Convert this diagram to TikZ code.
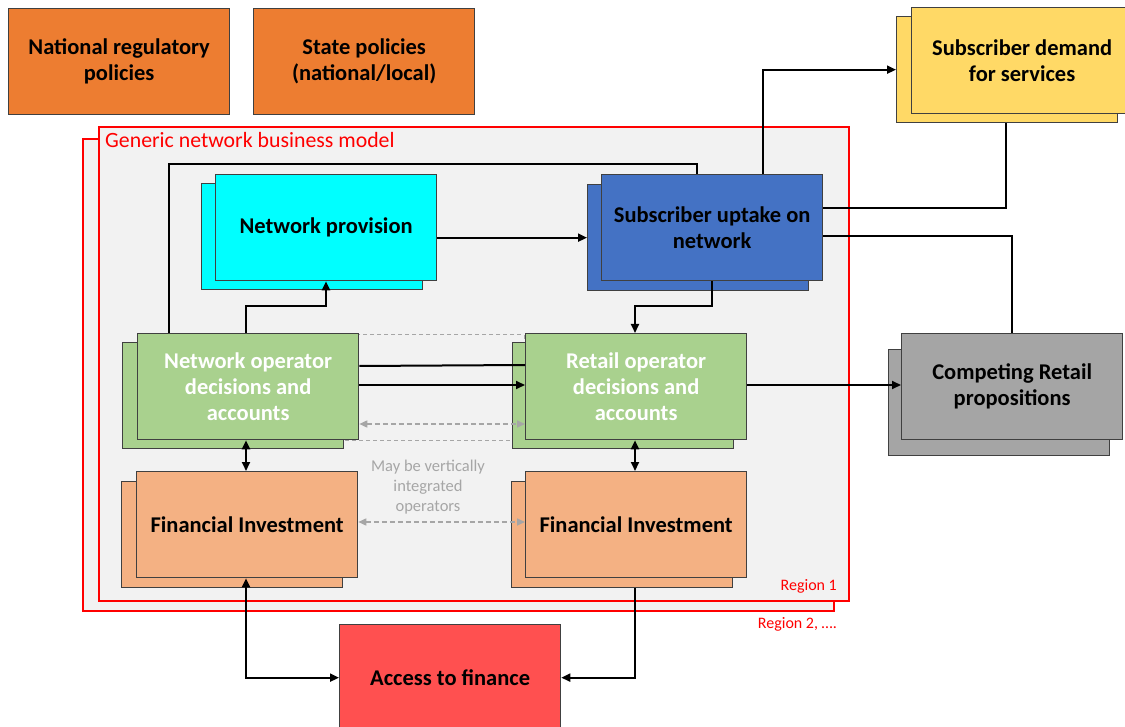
\documentclass[tikz,border=0pt]{standalone}
\usepackage{fontspec}
\setmainfont{Carlito}
\usetikzlibrary{arrows.meta}

\definecolor{policyorange}{HTML}{ED7D31}
\definecolor{demandyellow}{HTML}{FFD966}
\definecolor{provcyan}{HTML}{00FFFF}
\definecolor{uptakeblue}{HTML}{4472C4}
\definecolor{opgreen}{HTML}{A9D18E}
\definecolor{finpeach}{HTML}{F4B183}
\definecolor{compgray}{HTML}{A5A5A5}
\definecolor{financered}{HTML}{FF5050}
\definecolor{regionfill}{HTML}{F2F2F2}
\definecolor{regionred}{HTML}{FF0000}
\definecolor{notegray}{HTML}{A6A6A6}
\definecolor{edgegray}{HTML}{404040}

\tikzset{
  card/.style={draw=edgegray, line width=1.3pt, minimum width=221pt, minimum height=106pt,
    inner sep=2pt, anchor=north west, align=center,
    font=\fontsize{22.5}{26}\selectfont\bfseries},
  region/.style={draw=regionred, line width=2.4pt, fill=regionfill},
  regionlabel/.style={text=regionred, inner sep=0pt},
  link/.style={draw=black, line width=2pt},
  arr/.style={link, -{Triangle[length=9pt,width=8pt]}},
  darr/.style={link, {Triangle[length=9pt,width=8pt]}-{Triangle[length=9pt,width=8pt]}},
  gdarr/.style={draw=notegray, line width=1.6pt, dash pattern=on 5pt off 3pt,
    {Triangle[length=8pt,width=7pt]}-{Triangle[length=8pt,width=7pt]}},
  gdash/.style={draw=notegray, line width=1pt, dash pattern=on 4pt off 3pt},
}

% stacked card: name, style, front x, front y, back x, back y, label
\newcommand{\stackcard}[7]{%
  \node[card, #2] (#1b) at (#5,#6) {};
  \node[card, #2] (#1) at (#3,#4) {#7};}

\begin{document}
\begin{tikzpicture}[x=1pt, y=-1pt]
\useasboundingbox (0,0) rectangle (1125,727);
\clip (0,0) rectangle (1125,727);

% regions
\draw[region] (83,139) rectangle (834,611);
\draw[region] (99,127) rectangle (849,601);
\node[regionlabel, anchor=base west, font=\fontsize{21.8}{24}\selectfont] (gbm) at (105,148) {Generic network business model};
\node[regionlabel, anchor=base east, font=\fontsize{16}{18}\selectfont] (r1) at (837,590) {Region 1};
\node[regionlabel, anchor=base east, font=\fontsize{16}{18}\selectfont] (r2) at (837,628) {Region 2, \dots.};

% outline around the two operators
\draw[gdash] (345,335) rectangle (524,440);

% policy boxes
\node[card, fill=policyorange] (nrp) at (8,8) {National regulatory\\policies};
\node[card, fill=policyorange] (sp) at (253,8) {State policies\\(national/local)};

% stacked cards
\stackcard{sd}{fill=demandyellow}{911}{7}{896}{16}{Subscriber demand\\for services}
\stackcard{np}{fill=provcyan}{215}{174}{201}{183}{Network provision}
\stackcard{su}{fill=uptakeblue}{601}{174}{587}{184}{Subscriber uptake on\\network}
\stackcard{no}{fill=opgreen, text=white}{137}{333}{122}{342}{Network operator\\decisions and\\accounts}
\stackcard{ro}{fill=opgreen, text=white}{525}{333}{512}{342}{Retail operator\\decisions and\\accounts}
\stackcard{fl}{fill=finpeach}{136}{471}{121}{481}{Financial Investment}
\stackcard{fr}{fill=finpeach}{525}{471}{511}{481}{Financial Investment}
\stackcard{cr}{fill=compgray}{901}{333}{888}{349}{Competing Retail\\propositions}
\node[card, fill=financered] (af) at (339,624) {Access to finance};

% note between operators
\node[align=center, text=notegray, inner sep=0pt, font=\fontsize{16.5}{20}\selectfont] (vi) at (428,487) {May be vertically\\integrated\\operators};

% connectors
\draw[link] (169,0 |- no.north) |- (697,164) -- (697,0 |- su.north);
\draw[arr] (246,0 |- no.north) |- (326,306) -- (326,0 |- np.south);
\draw[arr] (np.east |- sub.west) -- (sub.west);
\draw[arr] (763,0 |- su.north) |- (sdb.west);
\draw[link] (su.east |- 0,208) -| (1006,0 |- sdb.south);
\draw[link] (su.east |- 0,236) -| (1012,0 |- cr.north);
\draw[arr] (712,0 |- su.south) |- (635,306) -- (635,0 |- ro.north);
\draw[link] (no.east |- 0,366) -- (ro.west |- 0,365);
\draw[arr] (no.east |- 0,385) -- (ro.west |- 0,385);
\draw[gdarr] (no.east |- 0,424) -- (ro.west |- 0,424);
\draw[gdarr] (fl.east |- 0,522) -- (fr.west |- 0,522);
\draw[darr] (246,0 |- no.south) -- (246,0 |- fl.north);
\draw[darr] (635,0 |- ro.south) -- (635,0 |- fr.north);
\draw[darr] (246,0 |- fl.south) |- (af.west);
\draw[arr] (635,0 |- frb.south) |- (af.east);
\draw[arr] (ro.east |- 0,385) -- (cr.west |- 0,385);
\end{tikzpicture}
\end{document}
